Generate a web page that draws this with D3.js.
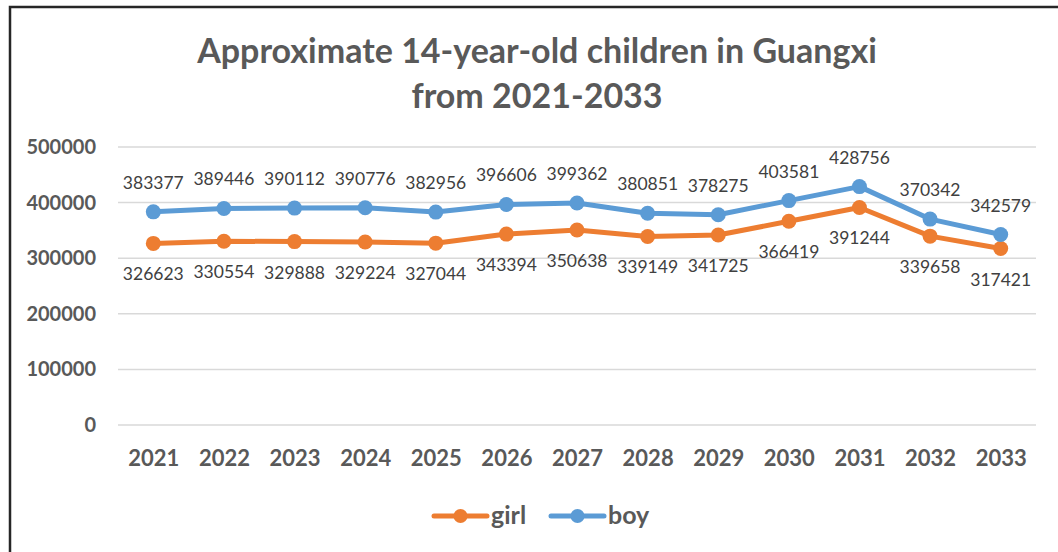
<!DOCTYPE html>
<html>
<head>
<meta charset="utf-8">
<script src="https://cdn.jsdelivr.net/npm/d3@7"></script>
<style>
    body { margin: 0; background: #fff; }
    text { font-family: Lato, "Open Sans", sans-serif; }
</style>
</head>
<body>
<svg id="drawing_region"></svg>
<script>
var years = ['2021','2022','2023','2024','2025','2026','2027','2028','2029','2030','2031','2032','2033'];
var girl = [326623, 330554, 329888, 329224, 327044, 343394, 350638, 339149, 341725, 366419, 391244, 339658, 317421];
var boy = [383377, 389446, 390112, 390776, 382956, 396606, 399362, 380851, 378275, 403581, 428756, 370342, 342579];
var yticks = [0, 100000, 200000, 300000, 400000, 500000];

var config = {
    parent: '#drawing_region',
    width: 1058,
    height: 552,
    margin: {top:147, right:22, bottom:127, left:118},
};

var svg = d3.select(config.parent)
    .attr('width', config.width)
    .attr('height', config.height);

// frame (right and bottom edges run off the picture)
svg.append('rect')
    .attr('x', 10).attr('y', 7)
    .attr('width', 1100).attr('height', 600)
    .attr('fill', 'none')
    .attr('stroke', '#262626')
    .attr('stroke-width', 2.5);

var inner_width = config.width - config.margin.left - config.margin.right;
var inner_height = config.height - config.margin.top - config.margin.bottom;

var chart = svg.append('g')
    .attr('transform', `translate(${config.margin.left}, ${config.margin.top})`);

var xscale = d3.scalePoint()
    .domain(years)
    .range([0, inner_width])
    .padding(0.5);

var yscale = d3.scaleLinear()
    .domain([0, 500000])
    .range([inner_height, 0]);

// gridlines
chart.append('g')
    .selectAll('line')
    .data(yticks)
    .join('line')
    .attr('x1', 0).attr('x2', inner_width)
    .attr('y1', d => yscale(d)).attr('y2', d => yscale(d))
    .attr('stroke', '#d9d9d9')
    .attr('stroke-width', 1.5);

var yaxis = d3.axisLeft(yscale)
    .tickValues(yticks)
    .tickFormat(d => d)
    .tickSize(0)
    .tickPadding(22);

var yaxis_group = chart.append('g').call(yaxis);
yaxis_group.select('.domain').remove();
yaxis_group.selectAll('text')
    .attr('fill', '#595959')
    .style('font-size', '20px')
    .style('font-weight', 'bold');

var xaxis = d3.axisBottom(xscale)
    .tickSize(0)
    .tickPadding(25);

var xaxis_group = chart.append('g')
    .attr('transform', `translate(0, ${inner_height})`)
    .call(xaxis);
xaxis_group.select('.domain').remove();
xaxis_group.selectAll('text')
    .attr('fill', '#595959')
    .style('font-size', '22px')
    .style('font-weight', 'bold');

var series = [
    {name:'girl', values:girl, color:'#ED7D31', dy:37},
    {name:'boy', values:boy, color:'#5B9BD5', dy:-23},
];

var line = d3.line()
    .x((d, i) => xscale(years[i]))
    .y(d => yscale(d));

series.forEach(s => {
    chart.append('path')
        .datum(s.values)
        .attr('d', line)
        .attr('fill', 'none')
        .attr('stroke', s.color)
        .attr('stroke-width', 5)
        .attr('stroke-linejoin', 'round');

    chart.append('g')
        .selectAll('circle')
        .data(s.values)
        .join('circle')
        .attr('cx', (d, i) => xscale(years[i]))
        .attr('cy', d => yscale(d))
        .attr('r', 7.5)
        .attr('fill', s.color);

    chart.append('g')
        .selectAll('text')
        .data(s.values)
        .join('text')
        .attr('x', (d, i) => xscale(years[i]))
        .attr('y', d => yscale(d) + s.dy)
        .attr('text-anchor', 'middle')
        .attr('fill', '#404040')
        .style('font-size', '17.5px')
        .text(d => d);
});

// title
var title = svg.append('text')
    .attr('x', 537)
    .attr('text-anchor', 'middle')
    .attr('fill', '#595959')
    .style('font-size', '34px')
    .style('font-weight', 'bold');
title.append('tspan').attr('x', 537).attr('y', 63).text('Approximate 14-year-old children in Guangxi');
title.append('tspan').attr('x', 537).attr('y', 108).text('from 2021-2033');

// legend
var legend = svg.append('g')
    .selectAll('g')
    .data([series[0], series[1]])
    .join('g')
    .attr('transform', (d, i) => `translate(${[434, 551][i]}, 516)`);

legend.append('line')
    .attr('x1', 0).attr('x2', 53)
    .attr('stroke', d => d.color)
    .attr('stroke-width', 5)
    .attr('stroke-linecap', 'round');

legend.append('circle')
    .attr('cx', 26.5)
    .attr('r', 7)
    .attr('fill', d => d.color);

legend.append('text')
    .attr('x', 57)
    .attr('y', 8)
    .attr('fill', '#595959')
    .style('font-size', '25px')
    .style('font-weight', 'bold')
    .text(d => d.name);
</script>
</body>
</html>
